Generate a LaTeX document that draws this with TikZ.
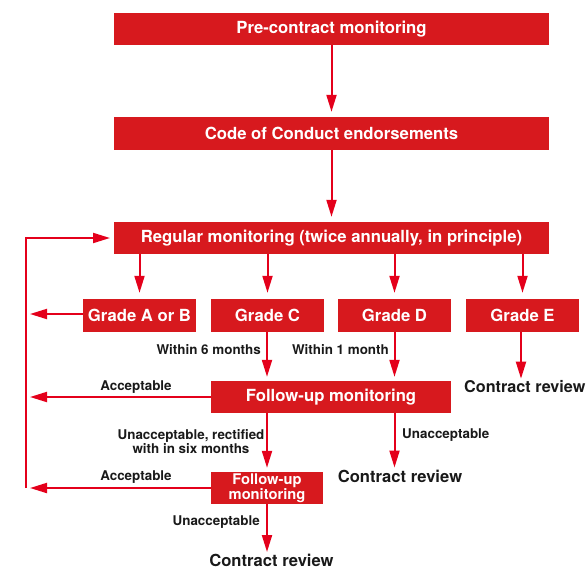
\documentclass[tikz,border=0pt]{standalone}
\usepackage{fontspec}
\setmainfont{TeX Gyre Heros}
\usetikzlibrary{arrows.meta}
\definecolor{boxred}{HTML}{D7191E}
\definecolor{arrred}{HTML}{E4001B}
\tikzset{
  redbox/.style={fill=boxred, draw=none, text=white, inner sep=0pt, align=center,
     font=\fontsize{16.7}{18}\selectfont\bfseries},
  smallbox/.style={redbox, font=\fontsize{14.7}{14}\selectfont\bfseries},
  lbl/.style={inner sep=0pt, text=black!90, align=center, font=\fontsize{13.4}{14}\selectfont\bfseries},
  outcome/.style={inner sep=0pt, text=black!90, font=\fontsize{16.6}{18}\selectfont\bfseries},
  conn/.style={draw=arrred, line width=2pt, -{Triangle[length=17pt,width=10pt]}},
  plain/.style={draw=arrred, line width=2pt}
}
\begin{document}
\begin{tikzpicture}[x=1pt,y=-1pt]
\useasboundingbox (0,0) rectangle (588,570);
% boxes
\node[redbox, minimum width=435pt, minimum height=32pt] (pre) at (331.5,29) {Pre-contract monitoring};
\node[redbox, minimum width=435pt, minimum height=33pt] (coc) at (331.5,133.5) {Code of Conduct endorsements};
\node[redbox, minimum width=435pt, minimum height=32pt] (reg) at (331.5,238) {Regular monitoring (twice annually, in principle)};
\node[redbox, minimum width=113pt, minimum height=33pt] (gab) at (139.5,315.5) {Grade A or B};
\node[redbox, minimum width=113pt, minimum height=33pt] (gc) at (267.5,315.5) {Grade C};
\node[redbox, minimum width=113pt, minimum height=33pt] (gd) at (394.5,315.5) {Grade D};
\node[redbox, minimum width=113pt, minimum height=33pt] (ge) at (522.5,315.5) {Grade E};
\node[redbox, minimum width=240pt, minimum height=32pt] (fu1) at (331,397) {Follow-up monitoring};
\node[smallbox, minimum width=112pt, minimum height=32pt] (fu2) at (267,488) {Follow-up\\monitoring};
% outcomes
\node[outcome, anchor=west, font=\fontsize{16.2}{18}\selectfont\bfseries] (cr1) at (464,387) {Contract review};
\node[outcome] (cr2) at (400,476) {Contract review};
\node[outcome] (cr3) at (271.5,560.5) {Contract review};
% coordinates
\coordinate (lab) at (30,314);
\coordinate (lfu1) at (30,397);
\coordinate (lfu2) at (30,488);
\coordinate (loopB) at (26,488);
\coordinate (loopT) at (26,238);
\coordinate (regL) at (110,238);
% connectors
\draw[conn, shorten >=5pt] (pre.south) -- (coc.north);
\draw[conn, shorten >=5pt] (coc.south) -- (reg.north);
\draw[conn, shorten >=6pt] (reg.south -| gab) -- (gab.north);
\draw[conn, shorten >=6pt] (reg.south -| gc) -- (gc.north);
\draw[conn, shorten >=6pt] (reg.south -| gd) -- (gd.north);
\draw[conn, shorten >=6pt] (reg.south -| ge) -- (ge.north);
\draw[conn] (gab.west |- lab) -- (lab);
\draw[conn, shorten >=4pt] ([xshift=-0.5pt]gc.south) -- ([xshift=-0.5pt]gc.south |- fu1.north);
\draw[conn, shorten >=4pt] (gd.south) -- (gd.south |- fu1.north);
\draw[conn, shorten >=2pt] ([xshift=-1.5pt]ge.south) -- ([xshift=-1.5pt]ge.south |- cr1.north);
\draw[conn] (fu1.west) -- (lfu1);
\draw[conn, shorten >=4pt] (fu1.south -| fu2) -- (fu2.north);
\draw[conn, shorten >=2pt] (fu1.south -| gd) -- (cr2.north -| gd);
\draw[conn] (fu2.west) -- (lfu2);
\draw[conn, shorten >=2pt] (fu2.south) -- (fu2.south |- cr3.north);
\draw[conn, line join=miter] (loopB) -- (loopT) -- (regL);
% labels
\node[lbl, anchor=east] (w6) at (261,350) {Within 6 months};
\node[lbl, anchor=east] (w1) at (389,350) {Within 1 month};
\node[lbl] (acc1) at (136,387) {Acceptable};
\node[lbl] (unr) at (191,442) {Unacceptable, rectified\\with in six months};
\node[lbl, anchor=west] (un1) at (402,435) {Unacceptable};
\node[lbl] (acc2) at (136,477) {Acceptable};
\node[lbl, anchor=east] (un2) at (260,522) {Unacceptable};
\end{tikzpicture}
\end{document}
